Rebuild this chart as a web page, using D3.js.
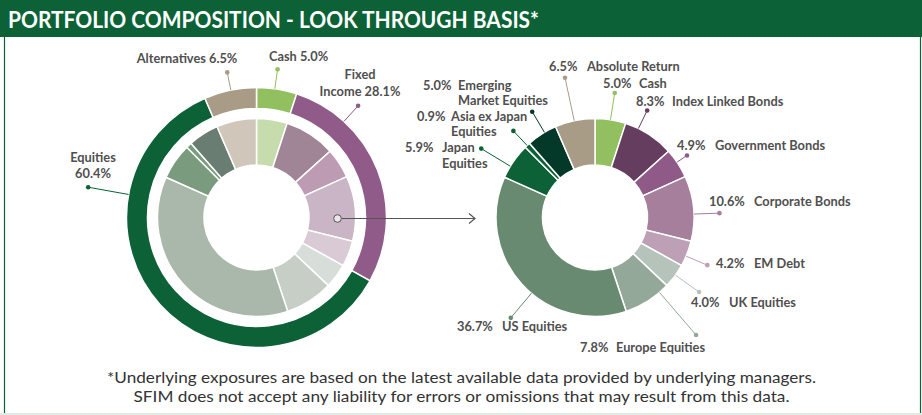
<!DOCTYPE html>
<html lang="en">
<head>
    <meta charset="UTF-8">
    <script src="https://d3js.org/d3.v7.min.js"></script>
    <title>Portfolio composition</title>
    <style>
        body { margin: 0; background: #fff; }
        text.lbl { fill: #4f4f4f; font-family: Lato, sans-serif; font-weight: bold; font-size: 12.8px; }
        text.foot { fill: #333; font-family: Lato, sans-serif; font-size: 16px; text-anchor: middle; }
    </style>
</head>
<body>
<svg height="415" width="922"></svg>
<script>
    const width = 922, height = 415;

    // outer ring of the left chart
    const groups = ["Cash", "Fixed Income", "Equities", "Alternatives"];
    const groupValues = [5.0, 28.1, 60.4, 6.5];
    const groupColors = ["#92bf5f", "#905a89", "#0c6236", "#a99c87"];

    // underlying exposures (inner ring on the left, full donut on the right)
    const assets = ["Cash", "Index Linked Bonds", "Government Bonds", "Corporate Bonds", "EM Debt",
        "UK Equities", "Europe Equities", "US Equities", "Japan Equities",
        "Asia ex Japan Equities", "Emerging Market Equities", "Absolute Return"];
    const assetValues = [5.0, 8.3, 4.9, 10.6, 4.2, 4.0, 7.8, 36.7, 5.9, 0.9, 5.0, 6.5];
    const assetColors = ["#92bf5f", "#653d5e", "#8f5988", "#a57f9b", "#bda0b5", "#b6c3bb",
        "#93a898", "#688a70", "#0c6236", "#0c6236", "#04392a", "#a99c87"];
    const assetLight = ["#c7dcad", "#a08597", "#bd9bb3", "#c9b5c5", "#d9cad5", "#d7ddd8",
        "#c6cec6", "#a9b8aa", "#7b9b7f", "#7b9b7f", "#6a7d72", "#d1c6ba"];
    const assetLines = [["Cash"], ["Index Linked Bonds"], ["Government Bonds"], ["Corporate Bonds"], ["EM Debt"],
        ["UK Equities"], ["Europe Equities"], ["US Equities"], ["Japan", "Equities"],
        ["Asia ex Japan", "Equities"], ["Emerging", "Market Equities"], ["Absolute Return"]];

    // label placement: leader angle (deg), dot radius, pct x, name x, baseline y (relative to centre)
    const rightLayout = [
        [9, 126, 8, 44, -130], [26, 119, 41, 77, -112], [56, 111, 82, 120, -67.5],
        [88, 124.5, 114, 159, -12], [113, 122, 121, 159, 50], [125.6, 128, 96, 134, 89],
        [139.3, 155, -15, 21, 134], [220, 131, -138, -93, 113], [301.2, 133, -190, -153, -65.5],
        [316.7, 119, -178, -144, -96.8], [329.3, 123, -172, -137, -128], [347.9, 143, -46, -8, -147]];
    const leftLayout = [
        [8.1, 149.7, 12.5, -156.5, "start"], [42.3, 151, 103.5, -138.5, "middle"],
        [280.2, 171, -163.5, -55.8, "middle"], [348.6, 148, -69.5, -154.5, "middle"]];
    const groupLines = [["Cash 5.0%"], ["Fixed", "Income 28.1%"], ["Equities", "60.4%"], ["Alternatives 6.5%"]];

    const svg = d3.select("svg");

    // frame and header
    svg.append("rect").attr("x", 0).attr("y", 413).attr("width", width).attr("height", 2).attr("fill", "#e1eae4");
    svg.append("line").attr("x1", 4.5).attr("x2", 4.5).attr("y1", 30).attr("y2", 413)
        .attr("stroke", "#0c6236").attr("stroke-width", 1.2);
    svg.append("line").attr("x1", 920.5).attr("x2", 920.5).attr("y1", 30).attr("y2", 413)
        .attr("stroke", "#0c6236").attr("stroke-width", 1.2);
    svg.append("rect").attr("width", width).attr("height", 37).attr("fill", "#0c6236");
    svg.append("text").attr("x", 8).attr("y", 28)
        .attr("textLength", 531).attr("lengthAdjust", "spacingAndGlyphs")
        .style("font-family", "Lato, sans-serif").style("font-weight", "bold").style("font-size", "23.5px")
        .style("fill", "#fff")
        .text("PORTFOLIO COMPOSITION - LOOK THROUGH BASIS*");

    const pie = d3.pie().sort(null).value(d => d);
    const rad = a => a * Math.PI / 180;
    const polar = (c, a, r) => [c[0] + r * Math.sin(rad(a)), c[1] - r * Math.cos(rad(a))];

    // multi-line label as one text element
    function addLines(g, lines, x, y, step, anchor) {
        const t = g.append("text").attr("class", "lbl").attr("x", x).attr("y", y)
            .attr("text-anchor", anchor || "start");
        lines.forEach((s, k) => {
            t.append("tspan").attr("x", x).attr("y", y + k * step).text(s);
        });
    }

    // ---- left chart ----
    const cL = [256.5, 217.5];
    const gL = svg.append("g").attr("transform", `translate(${cL})`);
    const outerArc = d3.arc().innerRadius(109).outerRadius(130);
    const innerArc = d3.arc().innerRadius(52.5).outerRadius(99);

    gL.selectAll("path.outer").data(pie(groupValues)).enter().append("path")
        .attr("d", outerArc).attr("fill", (d, i) => groupColors[i])
        .attr("stroke", "#fff").attr("stroke-width", 1.5);
    gL.selectAll("path.inner").data(pie(assetValues)).enter().append("path")
        .attr("d", innerArc).attr("fill", (d, i) => assetLight[i])
        .attr("stroke", "#fff").attr("stroke-width", 1.5);

    groups.forEach((g, i) => {
        const [a, r, tx, ty, anchor] = leftLayout[i];
        const p0 = polar([0, 0], a, 130), p1 = polar([0, 0], a, r);
        gL.append("line").attr("x1", p0[0]).attr("y1", p0[1]).attr("x2", p1[0]).attr("y2", p1[1])
            .attr("stroke", groupColors[i]).attr("stroke-width", 1);
        gL.append("circle").attr("cx", p1[0]).attr("cy", p1[1]).attr("r", 2.3).attr("fill", groupColors[i]);
        addLines(gL, groupLines[i], tx, ty, 16.5, anchor);
    });

    // ---- right chart ----
    const cR = [595, 217.5];
    const gR = svg.append("g").attr("transform", `translate(${cR})`);
    gR.selectAll("path").data(pie(assetValues)).enter().append("path")
        .attr("d", innerArc).attr("fill", (d, i) => assetColors[i])
        .attr("stroke", "#fff").attr("stroke-width", 1.5);

    assets.forEach((name, i) => {
        const [a, r, px, nx, y] = rightLayout[i];
        const p0 = polar([0, 0], a, 99), p1 = polar([0, 0], a, r);
        gR.append("line").attr("x1", p0[0]).attr("y1", p0[1]).attr("x2", p1[0]).attr("y2", p1[1])
            .attr("stroke", assetColors[i]).attr("stroke-width", 1);
        gR.append("circle").attr("cx", p1[0]).attr("cy", p1[1]).attr("r", 2.3).attr("fill", assetColors[i]);
        gR.append("text").attr("class", "lbl").attr("x", px).attr("y", y)
            .text(d3.format(".1f")(assetValues[i]) + "%");
        addLines(gR, assetLines[i], nx, y, 15.6);
    });

    // connector from fixed income slice to the right donut
    svg.append("line").attr("x1", 341.5).attr("x2", 475).attr("y1", 218.5).attr("y2", 218.5)
        .attr("stroke", "#555").attr("stroke-width", 1.2);
    svg.append("path").attr("d", "M469,213.5 L475,218.5 L469,223.5")
        .attr("fill", "none").attr("stroke", "#555").attr("stroke-width", 1.2);
    svg.append("circle").attr("cx", 337.5).attr("cy", 218.5).attr("r", 3.8)
        .attr("fill", "#ece6ea").attr("stroke", "#555").attr("stroke-width", 1);

    // footnote
    const notes = ["*Underlying exposures are based on the latest available data provided by underlying managers.",
        "SFIM does not accept any liability for errors or omissions that may result from this data."];
    const noteLen = [709, 656];
    notes.forEach((t, k) => {
        svg.append("text").attr("class", "foot").attr("x", 461.5).attr("y", 383 + k * 19)
            .attr("textLength", noteLen[k]).attr("lengthAdjust", "spacingAndGlyphs").text(t);
    });
</script>
</body>
</html>
